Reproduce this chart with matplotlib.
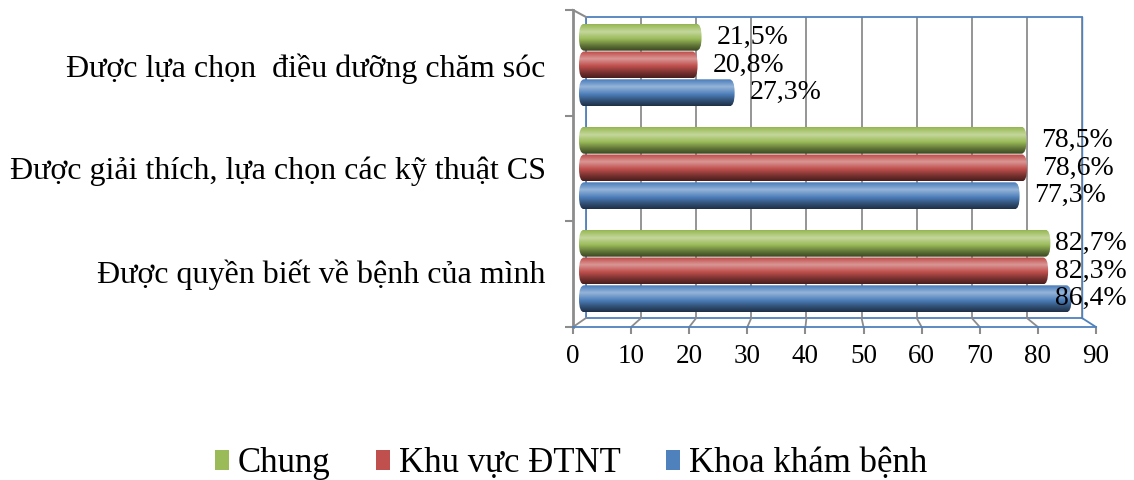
import numpy as np
import matplotlib
matplotlib.use("Agg")
import matplotlib.pyplot as plt
from matplotlib.patches import FancyBboxPatch, Patch

plt.rcParams['font.family'] = ['Liberation Serif', 'DejaVu Serif']

# ---- data ----
categories = ["Được quyền biết về bệnh của mình",
              "Được giải thích, lựa chọn các kỹ thuật CS",
              "Được lựa chọn  điều dưỡng chăm sóc"]
series_names = ["Chung", "Khu vực ĐTNT", "Khoa khám bệnh"]
chung = [82.7, 78.5, 21.5]
khu_vuc_dtnt = [82.3, 78.6, 20.8]
khoa_kham_benh = [86.4, 77.3, 27.3]
x_ticks = [0, 10, 20, 30, 40, 50, 60, 70, 80, 90]

base_colors = ["#9BBB59", "#C0504D", "#4F81BD"]
GRID_GRAY = "#8C8C8C"
FRAME_BLUE = "#4F81BD"

W, H = 1134, 480
fig = plt.figure(figsize=(W / 100, H / 100), dpi=100)


def box(x0, y0, x1, y1):
    """Axes rectangle from pixel corners (top-left origin)."""
    return [x0 / W, 1 - y1 / H, (x1 - x0) / W, (y1 - y0) / H]


# back wall of the 3D box
ax_back = fig.add_axes(box(586, 17, 1082, 318))
ax_back.set_xlim(0, 90)
ax_back.set_ylim(0, 1)
ax_back.axis("off")
ax_back.vlines(x_ticks, 0, 1, color=GRID_GRAY, lw=1.3, zorder=1)
ax_back.plot([0, 90], [1, 1], color=FRAME_BLUE, lw=1.3, zorder=2, clip_on=False)
ax_back.plot([0, 0], [0, 1], color=FRAME_BLUE, lw=1.3, zorder=2, clip_on=False)
ax_back.plot([90, 90], [0, 1], color=FRAME_BLUE, lw=1.0, zorder=2, clip_on=False)
ax_back.plot([0, 90], [0, 0], color=FRAME_BLUE, lw=1.3, zorder=2, clip_on=False)

# front plane: value axis with tick labels, left wall
ax_front = fig.add_axes(box(573, 10, 1096, 327))
ax_front.set_xlim(0, 90)
ax_front.set_ylim(0, 1)
ax_front.patch.set_alpha(0)
for s in ["top", "right"]:
    ax_front.spines[s].set_visible(False)
ax_front.spines["left"].set_color(GRID_GRAY)
ax_front.spines["left"].set_linewidth(2.0)
ax_front.spines["bottom"].set_color(FRAME_BLUE)
ax_front.spines["bottom"].set_linewidth(1.3)
ax_front.set_xticks(x_ticks)
ax_front.set_xticklabels([str(t) for t in x_ticks], fontsize=19.5)
ax_front.set_yticks([0, 1 / 3, 2 / 3, 1])
ax_front.set_yticklabels([])
ax_front.tick_params(axis="x", direction="out", length=5, width=1.5,
                     color=GRID_GRAY, pad=7)
ax_front.tick_params(axis="y", direction="out", length=6, width=1.5,
                     color=GRID_GRAY)

# floor lines joining the front ticks to the back wall
inv_front = ax_front.transData.inverted()
for t in x_ticks:
    bx, by = inv_front.transform(ax_back.transData.transform((t, 0)))
    col = FRAME_BLUE if t == 90 else GRID_GRAY
    ax_front.plot([t, bx], [0, by], color=col, lw=1.3, clip_on=False, zorder=1)
bx, by = inv_front.transform(ax_back.transData.transform((0, 1)))
ax_front.plot([0, bx], [1, by], color=GRID_GRAY, lw=1.5, clip_on=False)

# bars
ax_bar = fig.add_axes(box(579, 13.5, 1092, 322.5))
ax_bar.set_xlim(0, 90)
ax_bar.set_ylim(-0.5, 2.5)
ax_bar.patch.set_alpha(0)
for s in ax_bar.spines.values():
    s.set_visible(False)
ax_bar.set_xticks([])
ax_bar.set_yticks(range(len(categories)))
ax_bar.set_yticklabels(categories, fontsize=23)
ax_bar.tick_params(axis="y", length=0, pad=24)


def cylinder_colors(hex_color, n=64):
    base = np.array(matplotlib.colors.to_rgb(hex_color))
    t = np.linspace(0, 1, n)
    # brightness profile from top edge to bottom edge
    pts = [0.0, 0.28, 0.55, 0.8, 1.0]
    vals = [0.95, 1.45, 1.0, 0.62, 0.38]
    f = np.interp(t, pts, vals)
    out = np.empty((n, 1, 3))
    for i, k in enumerate(f):
        if k >= 1:
            c = base + (1 - base) * (k - 1) * 0.9
        else:
            c = base * k
        out[i, 0] = np.clip(c, 0, 1)
    return out


bar_h = 0.27
offsets = [bar_h, 0.0, -bar_h]
series = [chung, khu_vuc_dtnt, khoa_kham_benh]
for values, off, col in zip(series, offsets, base_colors):
    grad = cylinder_colors(col)
    for i, v in enumerate(values):
        yc = i + off
        y0, y1 = yc - bar_h / 2 + 0.004, yc + bar_h / 2 - 0.004
        im = ax_bar.imshow(grad, extent=(0, v, y0, y1), origin="upper",
                           aspect="auto", interpolation="bilinear", zorder=3)
        clip = FancyBboxPatch((0, y0), v, y1 - y0,
                              boxstyle="round,pad=0,rounding_size=0.9",
                              mutation_aspect=0.14,
                              transform=ax_bar.transData,
                              facecolor="none", edgecolor="none")
        ax_bar.add_patch(clip)
        im.set_clip_path(clip)
        lx = min(v + 2.6, 83.5)
        ax_bar.text(lx, yc, f"{v:.1f}%".replace(".", ","), fontsize=20,
                    va="center", ha="left", zorder=5, clip_on=False)

ax_bar.set_xlim(0, 90)
ax_bar.set_ylim(-0.5, 2.5)

# legend
handles = [Patch(facecolor=c, edgecolor="none") for c in base_colors]
fig.legend(handles, series_names, loc="center", bbox_to_anchor=(571 / W, 1 - 464 / H),
           ncol=3, frameon=False, fontsize=25, handlelength=0.42, handleheight=0.5,
           handletextpad=0.25, columnspacing=1.3)

fig.savefig("out.png", dpi=100)
